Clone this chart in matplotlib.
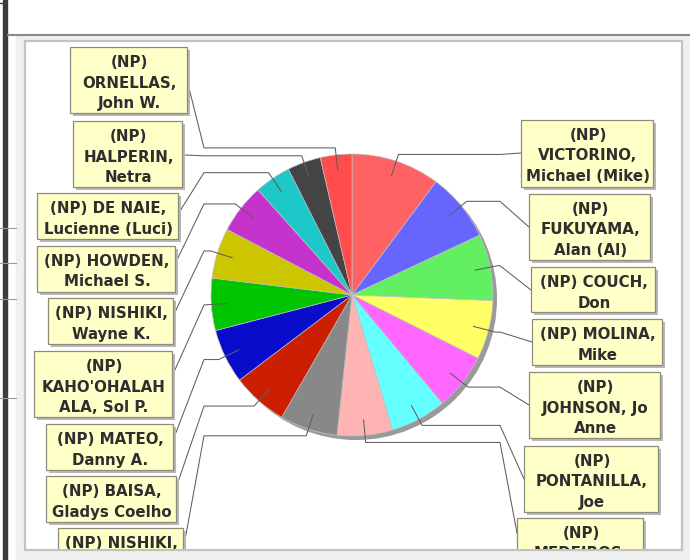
import matplotlib
matplotlib.use("Agg")
import matplotlib.pyplot as plt
from matplotlib.patches import Rectangle, Circle
import numpy as np

# Share of each candidate, clockwise from 12 o'clock
candidates = [
    "(NP)\nVICTORINO,\nMichael (Mike)",
    "(NP)\nFUKUYAMA,\nAlan (Al)",
    "(NP) COUCH,\nDon",
    "(NP) MOLINA,\nMike",
    "(NP)\nJOHNSON, Jo\nAnne",
    "(NP)\nPONTANILLA,\nJoe",
    "(NP)\nMEDEIROS,",
    "(NP) NISHIKI,",
    "(NP) BAISA,\nGladys Coelho",
    "(NP) MATEO,\nDanny A.",
    "(NP)\nKAHO'OHALAH\nALA, Sol P.",
    "(NP) NISHIKI,\nWayne K.",
    "(NP) HOWDEN,\nMichael S.",
    "(NP) DE NAIE,\nLucienne (Luci)",
    "(NP)\nHALPERIN,\nNetra",
    "(NP)\nORNELLAS,\nJohn W.",
]
shares = [36.6, 28.3, 27.4, 24.4, 23.5, 23.1, 22.8, 23.8,
          23.0, 22.5, 21.5, 20.8, 20.5, 15.0, 13.8, 13.0]

slice_colors = ["#ff6262", "#6666ff", "#62f062", "#ffff66", "#ff66ff", "#66ffff",
                "#ffb4b4", "#888888", "#cc1e00", "#0a0ccc", "#00c400", "#cbc600",
                "#c632cc", "#1ec8c8", "#444444", "#ff4c4c"]

# ---- page geometry (pixel coords, y measured from top) ----
W, H = 690, 560
def Y(y):
    return H - y

CX, CY, R = 352, 295, 141
ANCHOR_LEFT, ANCHOR_RIGHT = 204, 500

# label boxes: (x0, top, x1, bottom); target y for the leader line
box_layout = {
    0: ((521, 120, 653, 187), 153),
    1: ((529, 194, 650, 260), 227),
    2: ((531, 267, 655, 312), 290),
    3: ((532, 319, 662, 365), 342),
    4: ((529, 372, 660, 438), 405),
    5: ((524, 446, 658, 512), 479),
    6: ((517, 518, 643, 585), 533),
    7: ((58, 528, 183, 574), 540),
    8: ((46, 476, 176, 522), 482),
    9: ((46, 424, 173, 470), 435),
    10: ((34, 351, 172, 417), 372),
    11: ((48, 298, 173, 344), 312),
    12: ((37, 246, 175, 292), 260),
    13: ((37, 193, 178, 239), 211),
    14: ((73, 121, 182, 187), 155),
    15: ((70, 47, 187, 113), 88),
}

fig = plt.figure(figsize=(W / 100, H / 100), dpi=100)
ax = fig.add_axes([0, 0, 1, 1])
fig.patch.set_facecolor("white")

# window chrome around the chart panel
ax.add_patch(Rectangle((3, 0), 3.5, H, color="#3c3c3c", zorder=1))
ax.add_patch(Rectangle((16, 0), W - 16, Y(36), color="#efefef", zorder=1))
ax.plot([7, W], [Y(34.5), Y(34.5)], color="#8a8a8a", lw=1.5, zorder=2,
        solid_capstyle="butt")
for yy in (228, 263, 299, 398):
    ax.plot([0, 16], [Y(yy), Y(yy)], color="#9a9a9a", lw=0.8, zorder=2)
ax.plot([0, 6], [Y(3), Y(3)], color="#3c3c3c", lw=1.0, zorder=2)

inner = Rectangle((25, Y(550)), 657, 550 - 40.5, facecolor="white",
                  edgecolor="#c2c2c2", lw=1.6, zorder=2)
ax.add_patch(inner)
clip = Rectangle((26, Y(549)), 655, 549 - 41.5, transform=ax.transData)

# pie shadow and pie
shadow = Circle((CX + 4, Y(CY) - 4), R, color="#9a9a9a", zorder=3, lw=0)
ax.add_patch(shadow)
wedges, _ = ax.pie(shares, colors=slice_colors, startangle=90, counterclock=False,
                   center=(CX, Y(CY)), radius=R,
                   wedgeprops=dict(edgecolor="#c0c0c0", linewidth=0.5, zorder=4))
for w in wedges:
    w.set_zorder(4)

label_font = dict(family="DejaVu Sans", weight="bold", size=10.8, color="#2e2e2e")

for i, w in enumerate(wedges):
    mid = np.deg2rad((w.theta1 + w.theta2) / 2)
    c, s = np.cos(mid), np.sin(mid)
    inner_pt = (CX + 0.89 * R * c, Y(CY) + 0.89 * R * s)
    elbow = (CX + 1.05 * R * c, Y(CY) + 1.05 * R * s)
    (x0, top, x1, bot), ty = box_layout[i]
    if c < 0:
        anchor = (ANCHOR_LEFT, elbow[1])
        target = (x1 + 2, Y(ty))
    else:
        anchor = (ANCHOR_RIGHT, elbow[1])
        target = (x0, Y(ty))
    xs = [inner_pt[0], elbow[0], anchor[0], target[0]]
    ys = [inner_pt[1], elbow[1], anchor[1], target[1]]
    ln, = ax.plot(xs, ys, color="#5e5e5e", lw=0.75, zorder=5)
    ln.set_clip_path(clip)

    # label box with drop shadow
    sh = Rectangle((x0 + 3, Y(bot) - 3), x1 - x0, bot - top, facecolor="#b8b8b8",
                   edgecolor="none", zorder=6)
    bx = Rectangle((x0, Y(bot)), x1 - x0, bot - top, facecolor="#ffffc8",
                   edgecolor="#8c8c78", lw=0.9, zorder=7)
    for p in (sh, bx):
        ax.add_patch(p)
        p.set_clip_path(clip)
    xc = (x0 + x1) / 2 + 1
    for k, line in enumerate(candidates[i].split("\n")):
        t = ax.text(xc, Y(top + 20 + 20.5 * k), line, ha="center", va="baseline",
                    zorder=8, clip_on=True, **label_font)
        t.set_clip_path(clip)

ax.set_xlim(0, W)
ax.set_ylim(0, H)
ax.set_aspect("auto")
ax.axis("off")
fig.savefig("out.png", dpi=100, facecolor="white")
